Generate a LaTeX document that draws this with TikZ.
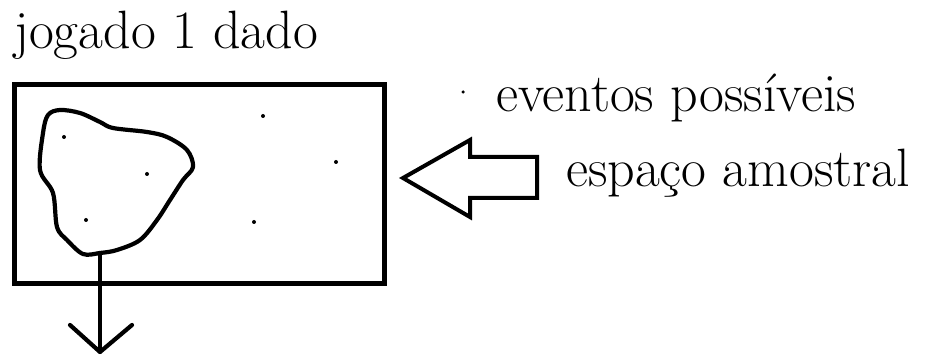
\documentclass[tikz,border=0pt]{standalone}
\begin{document}
\begin{tikzpicture}[x=1pt,y=-1pt,
  lbl/.style={anchor=base west,inner sep=0pt,font=\fontsize{54}{62}\selectfont},
  pt/.style={fill=black,circle,inner sep=0pt,minimum size=4pt},
  thick4/.style={line width=4.2pt,line join=round,line cap=round}]
\useasboundingbox (0,0) rectangle (937,355);
% title
\node[lbl] (title) at (14,49) {jogado 1 dado};
% sample space rectangle
\node[draw,line width=5pt,minimum width=370pt,minimum height=199pt,inner sep=0pt] (space) at (199.5,184) {};
% event blob
\draw[thick4] plot[smooth cycle,tension=0.55] coordinates {
  (100,253) (117,250) (140,240) (157,220) (170,200) (183,180) (193,167)
  (187,150) (167,137) (147,132) (113,128) (100,122) (80,113) (60,110)
  (48,115) (43,133) (40,170) (53,193) (57,227) (67,240) (83,254)};
\coordinate (blobbot) at (100,253);
% sample points
\node[pt] (p1) at (64,137) {};
\node[pt] (p2) at (147,174) {};
\node[pt] (p3) at (86,220) {};
\node[pt] (p4) at (263,116) {};
\node[pt] (p5) at (336,162) {};
\node[pt] (p6) at (254,222) {};
% down arrow
\coordinate (dtip) at (100,352);
\draw[thick4] (blobbot) -- (dtip);
\draw[thick4] (70,325) -- (dtip) -- (132,325);
% legend
\node[pt,minimum size=3.5pt] (legdot) at (463,92) {};
\node[lbl] (ev) at (496,112) {eventos possíveis};
\node[lbl] (esp) at (566,187) {espaço amostral};
% hollow arrow pointing left
\draw[line width=4pt,line join=miter] (403,178) -- (470,140) -- (470,157) -- (537,157) -- (537,198) -- (470,198) -- (470,217) -- cycle;
\end{tikzpicture}
\end{document}
